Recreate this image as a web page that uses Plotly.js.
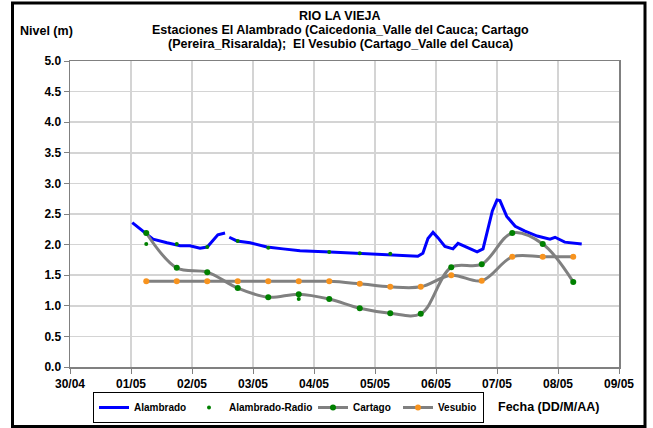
<!DOCTYPE html>
<html>
<head>
<meta charset="utf-8">
<script src="https://cdn.plot.ly/plotly-3.0.1.min.js"></script>
<style>html,body{margin:0;padding:0;background:#fff;}#chart{width:653px;height:428px;}</style>
</head>
<body>
<div id="chart"></div>
<script>
// Alambrado (continuous gauge, null = gap)
const alambradoX = ["2011-05-01 00:30","2011-05-01 05:30","2011-05-01 08:40","2011-05-01 14:10","2011-05-01 19:20","2011-05-01 23:10","2011-05-02 03:10","2011-05-02 06:00","2011-05-02 08:10","2011-05-02 10:10","2011-05-02 13:00","2011-05-02 13:50","2011-05-02 14:40","2011-05-02 17:40","2011-05-02 22:50","2011-05-03 05:30","2011-05-03 11:50","2011-05-03 18:30","2011-05-04 06:20","2011-05-04 18:00","2011-05-05 06:00","2011-05-05 16:50","2011-05-05 18:50","2011-05-05 20:50","2011-05-05 22:50","2011-05-06 00:50","2011-05-06 03:30","2011-05-06 06:40","2011-05-06 08:40","2011-05-06 11:30","2011-05-06 16:10","2011-05-06 18:30","2011-05-06 20:10","2011-05-06 22:10","2011-05-07 00:00","2011-05-07 01:10","2011-05-07 03:50","2011-05-07 07:10","2011-05-07 11:00","2011-05-07 15:50","2011-05-07 20:50","2011-05-07 22:50","2011-05-08 02:40","2011-05-08 06:00","2011-05-08 09:20"];
const alambradoY = [2.36,2.19,2.09,2.03,1.98,1.98,1.94,1.96,2.07,2.16,2.19,null,2.12,2.06,2.03,1.96,1.93,1.90,1.88,1.86,1.83,1.81,1.86,2.10,2.20,2.11,1.97,1.93,2.02,1.97,1.88,1.93,2.20,2.55,2.73,2.72,2.46,2.30,2.22,2.14,2.09,2.12,2.04,2.02,2.01];

// Alambrado-Radio readings
const radioX = ["2011-05-01 06:00","2011-05-01 18:00","2011-05-02 06:00","2011-05-02 18:00","2011-05-03 06:00","2011-05-03 18:00","2011-05-04 06:00","2011-05-04 18:00","2011-05-05 06:00"];
const radioY = [2.01,2.01,1.96,2.06,1.95,1.11,1.88,1.86,1.85];

// Cartago and Vesubio readings (06:00 and 18:00)
const stationX = ["2011-05-01 06:00","2011-05-01 18:00","2011-05-02 06:00","2011-05-02 18:00","2011-05-03 06:00","2011-05-03 18:00","2011-05-04 06:00","2011-05-04 18:00","2011-05-05 06:00","2011-05-05 18:00","2011-05-06 06:00","2011-05-06 18:00","2011-05-07 06:00","2011-05-07 18:00","2011-05-08 06:00"];
const cartagoY = [2.19,1.62,1.55,1.29,1.14,1.19,1.11,0.96,0.88,0.87,1.63,1.68,2.19,2.01,1.39];
const vesubioY = [1.40,1.40,1.40,1.40,1.40,1.40,1.40,1.36,1.31,1.31,1.50,1.41,1.80,1.80,1.80];

// Tick labels
const xTickVals = ["2011-04-30","2011-05-01","2011-05-02","2011-05-03","2011-05-04","2011-05-05","2011-05-06","2011-05-07","2011-05-08","2011-05-09"];
const xTickText = ["30/04","01/05","02/05","03/05","04/05","05/05","06/05","07/05","08/05","09/05"];
const yTickVals = [0,0.5,1,1.5,2,2.5,3,3.5,4,4.5,5];
const yTickText = ["0.0","0.5","1.0","1.5","2.0","2.5","3.0","3.5","4.0","4.5","5.0"];

const titleLines = ["RIO LA VIEJA","Estaciones El Alambrado (Caicedonia_Valle del Cauca; Cartago","(Pereira_Risaralda);  El Vesubio (Cartago_Valle del Cauca)"];

const FONT = "Liberation Sans, Arial, sans-serif";
const bold = s => "<b>" + s + "</b>";

const traces = [
  {name:bold("Alambrado"), x:alambradoX, y:alambradoY, type:"scatter", mode:"lines",
   line:{color:"#0000ff", width:3}, connectgaps:false, legendrank:1, legendwidth:50},
  {name:bold("Cartago"), x:stationX, y:cartagoY, type:"scatter", mode:"lines+markers",
   line:{color:"#808080", width:3, shape:"spline", smoothing:1}, marker:{color:"#008000", size:6}, legendrank:3, legendwidth:40},
  {name:bold("Vesubio"), x:stationX, y:vesubioY, type:"scatter", mode:"lines+markers",
   line:{color:"#808080", width:3, shape:"spline", smoothing:1}, marker:{color:"#f7931e", size:6}, legendrank:4, legendwidth:40},
  {name:bold("Alambrado-Radio"), x:radioX, y:radioY, type:"scatter", mode:"markers",
   marker:{color:"#008000", size:4}, legendrank:2, legendwidth:79}
];

const W = 549, H = 306;
const titleY = [16, 30, 44];
const annotations = titleLines.map((t, i) => ({
  text:bold(t), xref:"paper", yref:"paper", x:(340-70)/W, y:(367-titleY[i])/H,
  xanchor:"center", yanchor:"middle", showarrow:false, font:{family:FONT, size:12.5, color:"#000"}
}));
annotations.push(
  {text:bold("Nivel (m)"), xref:"paper", yref:"paper", x:(18-70)/W, y:(367-31)/H, xanchor:"left", yanchor:"middle", showarrow:false, font:{family:FONT, size:12.5, color:"#000"}},
  {text:bold("Fecha (DD/M/AA)"), xref:"paper", yref:"paper", x:(601-70)/W, y:(367-407)/H, xanchor:"right", yanchor:"middle", showarrow:false, font:{family:FONT, size:12.5, color:"#000"}}
);

const layout = {
  width:653, height:428,
  margin:{l:70, r:34, t:61, b:61, autoexpand:false},
  paper_bgcolor:"#ffffff", plot_bgcolor:"#ffffff",
  font:{family:FONT, size:11, color:"#000"},
  showlegend:true,
  xaxis:{type:"date", range:["2011-04-30","2011-05-09"], tickmode:"array", tickvals:xTickVals, ticktext:xTickText.map(bold),
    showgrid:true, gridcolor:"#d4d4d4", gridwidth:1.5,
    showline:true, linecolor:"#808080", linewidth:1.5, mirror:true,
    ticks:"outside", ticklen:5, tickcolor:"#808080",
    tickfont:{family:FONT, size:12, color:"#000"}, zeroline:false},
  yaxis:{range:[0,5], tickmode:"array", tickvals:yTickVals, ticktext:yTickText.map(bold),
    showgrid:true, gridcolor:"#d4d4d4", gridwidth:1.5,
    showline:true, linecolor:"#808080", linewidth:1.5, mirror:true,
    ticks:"outside", ticklen:5, tickcolor:"#808080",
    tickfont:{family:FONT, size:12, color:"#000"}, zeroline:false},
  legend:{orientation:"h", x:(93-70)/W, y:(367-407.5)/H, xanchor:"left", yanchor:"middle",
    bordercolor:"#000", borderwidth:1, bgcolor:"#fff",
    font:{family:FONT, size:10, color:"#000"}, itemwidth:30, tracegroupgap:0},
  annotations:annotations,
  shapes:[
    {type:"rect", xref:"paper", yref:"paper", x0:(12.5-70)/W, x1:(645-70)/W, y0:(367-426.5)/H, y1:(367-3)/H, line:{color:"#000", width:3}, layer:"above"}
  ]
};

Plotly.newPlot("chart", traces, layout, {staticPlot:true, displayModeBar:false});
</script>
</body>
</html>
